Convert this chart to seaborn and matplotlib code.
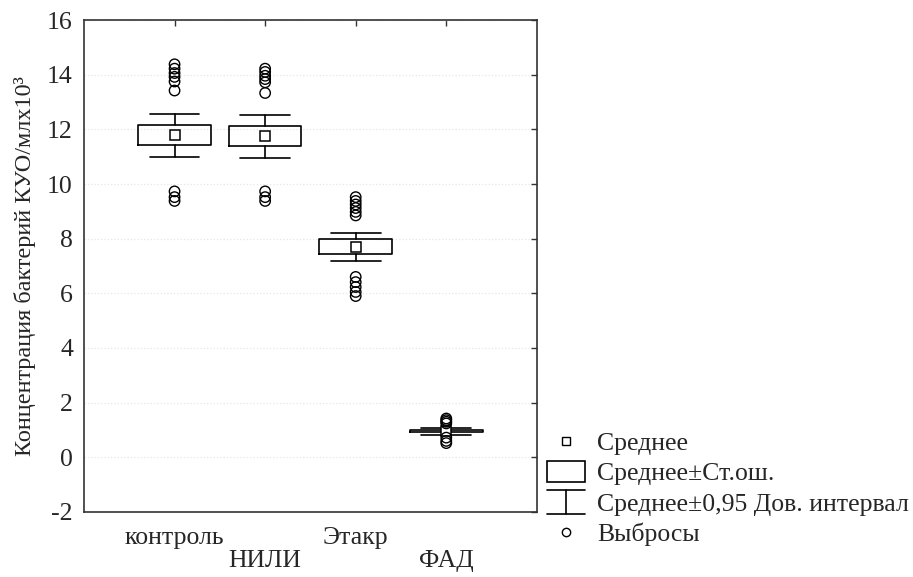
import numpy as np
import pandas as pd
import matplotlib
matplotlib.use("Agg")
import matplotlib.pyplot as plt
import seaborn as sns
from matplotlib.legend_handler import HandlerBase
from matplotlib.lines import Line2D
from matplotlib.patches import Rectangle

# data
categories = ["контроль", "НИЛИ", "Этакр", "ФАД"]
means = [11.78, 11.76, 7.69, 0.96]
se_low = [11.42, 11.38, 7.45, 0.93]
se_high = [12.15, 12.11, 7.97, 0.99]
ci_low = [11.0, 10.95, 7.17, 0.82]
ci_high = [12.57, 12.54, 8.19, 1.07]
out_control = [14.38, 14.22, 14.06, 13.92, 13.75, 13.42, 9.73, 9.52, 9.38]
out_nili = [14.22, 14.1, 13.96, 13.84, 13.72, 13.33, 9.73, 9.52, 9.38]
out_etakr = [9.52, 9.38, 9.25, 9.12, 8.98, 8.85, 6.6, 6.41, 6.23, 6.05, 5.9]
out_fad = [1.42, 1.36, 1.3, 1.24, 0.72, 0.6, 0.52]

sns.set_style("white")
plt.rcParams['font.family'] = ['Liberation Serif', 'DejaVu Serif']
plt.rcParams['axes.unicode_minus'] = False

outliers = [out_control, out_nili, out_etakr, out_fad]
df = pd.DataFrame({
    "group": [c for c, vals in zip(categories, outliers) for _ in vals],
    "value": [v for vals in outliers for v in vals],
})

fig = plt.figure(figsize=(9.13, 5.77), dpi=100)
ax = fig.add_axes([0.092, 0.1127, 0.496, 0.8526])

sns.stripplot(data=df, x="group", y="value", order=categories, jitter=False,
              marker="o", size=7.5, color="white", edgecolor="black",
              linewidth=1, ax=ax, zorder=3)
for coll in ax.collections:
    coll.set_facecolor("none")

stats = []
for i in range(len(categories)):
    stats.append(dict(med=means[i], mean=means[i], q1=se_low[i], q3=se_high[i],
                      whislo=ci_low[i], whishi=ci_high[i], fliers=[]))
ax.bxp(stats, positions=range(len(categories)), widths=0.8, capwidths=0.55,
       showmeans=True, showfliers=False, manage_ticks=False,
       boxprops=dict(color="black", linewidth=1.2),
       whiskerprops=dict(color="black", linewidth=1.2),
       capprops=dict(color="black", linewidth=1.2),
       medianprops=dict(linewidth=0),
       meanprops=dict(marker="s", markerfacecolor="white", markeredgecolor="black",
                      markersize=6.5, markeredgewidth=1.1))

ax.set_xlim(-1, 4)
ax.set_ylim(-2, 16)
ax.set_yticks(np.arange(-2, 17, 2))
ax.set_xticks(range(len(categories)))
ax.set_xticklabels([c if i % 2 == 0 else "\n" + c for i, c in enumerate(categories)])
for t in ax.get_xticklabels():
    t.set_linespacing(1.05)
ax.tick_params(axis="both", direction="in", top=True, right=True, length=4,
               width=1, color="#333333")
ax.tick_params(axis="x", pad=11, labelsize=18.5)
ax.tick_params(axis="y", pad=8, labelsize=18.5)
ax.yaxis.grid(True, color="#e6e6e6", linestyle=":", linewidth=0.9)
ax.set_axisbelow(True)
for s in ax.spines.values():
    s.set_color("#333333")
    s.set_linewidth(1.2)
ax.set_xlabel("")
ax.set_ylabel("Концентрация бактерий КУО/млx10³", fontsize=17.5, labelpad=8)


class HandlerWhisker(HandlerBase):
    def create_artists(self, legend, orig_handle, xdescent, ydescent, width,
                       height, fontsize, trans):
        x0, x1 = -xdescent, -xdescent + width
        xm = (x0 + x1) / 2
        y0, y1 = -ydescent - 0.1 * height, -ydescent + 1.1 * height
        kw = dict(color="black", linewidth=1.2, transform=trans)
        return [Line2D([x0, x1], [y1, y1], **kw),
                Line2D([xm, xm], [y0, y1], **kw),
                Line2D([x0, x1], [y0, y0], **kw)]


h_mean = Line2D([], [], linestyle="none", marker="s", markerfacecolor="white",
                markeredgecolor="black", markersize=6)
h_box = Rectangle((0, 0), 1, 1, facecolor="white", edgecolor="black", linewidth=1.2)
h_ci = Line2D([], [])
h_out = Line2D([], [], linestyle="none", marker="o", markerfacecolor="none",
               markeredgecolor="black", markersize=6)
fig.legend([h_mean, h_box, h_ci, h_out],
           ["Среднее", "Среднее±Ст.ош.", "Среднее±0,95 Дов. интервал", "Выбросы"],
           handler_map={h_ci: HandlerWhisker()},
           loc="upper left", bbox_to_anchor=(0.599, 0.253), frameon=False,
           fontsize=18.5, handlelength=1.5, handleheight=0.85, handletextpad=0.45,
           labelspacing=0.24, borderpad=0.0, borderaxespad=0.0)

fig.savefig("out.png", dpi=100)
